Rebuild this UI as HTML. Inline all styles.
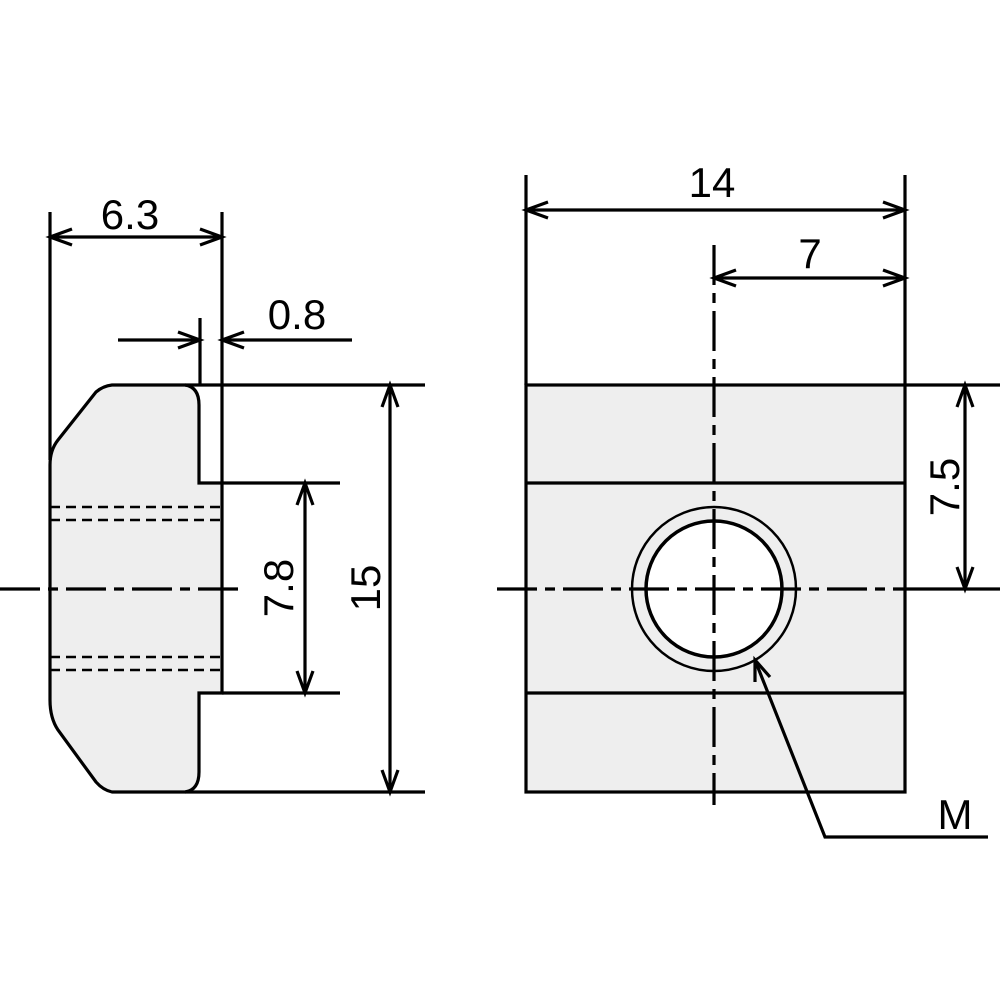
<!DOCTYPE html>
<html><head><style>body{margin:0;background:#fff}svg{display:block}text{font-family:"Liberation Sans",sans-serif;font-size:42px;fill:#000}</style></head>
<body>
<svg width="1000" height="1000" viewBox="0 0 1000 1000" xmlns="http://www.w3.org/2000/svg">
<g stroke="#000" stroke-width="3.2" fill="none">
<path d="M112,385 L185,385 Q199,387 199,405 L199,483 L222,483 L222,693 L199,693 L199,772 Q199,790 185,792 L112,792 Q103,790 96,782 L58,730 Q50,718 50,700 L50,465 Q50,450 58,440 L96,392 Q103,386 112,385 Z" fill="#eeeeee"/>
<line x1="50" y1="212" x2="50" y2="460"/>
<line x1="222" y1="212" x2="222" y2="483"/>
<line x1="200" y1="318" x2="200" y2="385"/>
<line x1="185" y1="385" x2="425" y2="385"/>
<line x1="185" y1="792" x2="425" y2="792"/>
<line x1="222" y1="483" x2="340" y2="483"/>
<line x1="222" y1="693" x2="340" y2="693"/>
<g stroke-dasharray="10,6" stroke-width="2.5">
<line x1="50" y1="507" x2="220" y2="507"/><line x1="50" y1="520" x2="220" y2="520"/>
<line x1="50" y1="657" x2="220" y2="657"/><line x1="50" y1="670" x2="220" y2="670"/>
</g>
<line x1="0" y1="589" x2="245" y2="589" stroke-dasharray="40,8,10,8"/>
<line x1="50" y1="237" x2="222" y2="237"/>
<path d="M72,229 L50,237 L72,245 M200,229 L222,237 L200,245"/>
<line x1="118" y1="340" x2="200" y2="340"/><line x1="222" y1="340" x2="352" y2="340"/>
<path d="M178,332 L200,340 L178,348 M244,332 L222,340 L244,348"/>
<line x1="305" y1="483" x2="305" y2="693"/>
<path d="M297,505 L305,483 L313,505 M297,671 L305,693 L313,671"/>
<line x1="390" y1="385" x2="390" y2="792"/>
<path d="M382,407 L390,385 L398,407 M382,770 L390,792 L398,770"/>
<rect x="526" y="385" width="379" height="407" fill="#eeeeee"/>
<line x1="526" y1="483" x2="905" y2="483"/>
<line x1="526" y1="693" x2="905" y2="693"/>
<circle cx="714" cy="589" r="82" stroke-width="2.5"/>
<circle cx="714" cy="589" r="68" fill="#fff" stroke-width="3.5"/>
<line x1="497" y1="589" x2="905" y2="589" stroke-dasharray="40,8,10,8"/>
<line x1="714" y1="245" x2="714" y2="805" stroke-dasharray="40,8,10,8"/>
<line x1="526" y1="175" x2="526" y2="385"/>
<line x1="905" y1="175" x2="905" y2="385"/>
<line x1="526" y1="210" x2="905" y2="210"/>
<path d="M548,202 L526,210 L548,218 M883,202 L905,210 L883,218"/>
<line x1="714" y1="278" x2="905" y2="278"/>
<path d="M736,270 L714,278 L736,286 M883,270 L905,278 L883,286"/>
<line x1="905" y1="385" x2="1000" y2="385"/>
<line x1="905" y1="589" x2="1000" y2="589"/>
<line x1="965" y1="385" x2="965" y2="589"/>
<path d="M957,407 L965,385 L973,407 M957,567 L965,589 L973,567"/>
<path d="M755,660 L825,837 L988,837"/>
<path d="M755,682 L755,660 L770,677"/>
</g>
<text x="130" y="229" text-anchor="middle">6.3</text>
<text x="297" y="329" text-anchor="middle">0.8</text>
<text transform="translate(293,588) rotate(-90)" text-anchor="middle">7.8</text>
<text transform="translate(380,588) rotate(-90)" text-anchor="middle">15</text>
<text x="712" y="197" text-anchor="middle">14</text>
<text x="810" y="268" text-anchor="middle">7</text>
<text transform="translate(959,487) rotate(-90)" text-anchor="middle">7.5</text>
<text x="955" y="829" text-anchor="middle">M</text>
</svg>
</body></html>
